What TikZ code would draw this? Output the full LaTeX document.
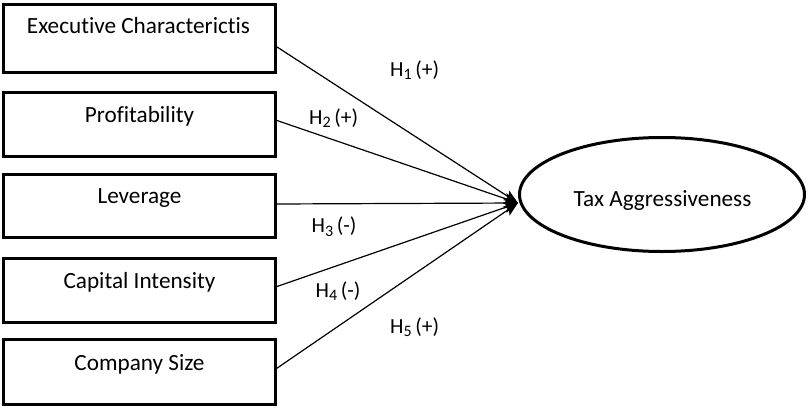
\documentclass[tikz,border=0pt]{standalone}
\usepackage{fontspec}
\setmainfont[Ligatures={NoCommon}]{Carlito}
\usetikzlibrary{shapes.geometric,arrows.meta}
\newcommand{\hyp}[2]{H\raisebox{-0.35ex}{\fontsize{16}{16}\selectfont #1}\,(#2)}
\begin{document}
\begin{tikzpicture}[x=1pt,y=-1pt,
  box/.style={draw=black,line width=3pt,rectangle,minimum width=272pt,inner sep=0pt,outer sep=0pt},
  boxtext/.style={anchor=base,inner sep=0pt,font=\fontsize{23.2}{26}\selectfont},
  hlabel/.style={anchor=base west,inner sep=0pt,font=\fontsize{21.5}{26}\selectfont},
  conn/.style={draw=black,line width=1.2pt,-{Stealth[length=14pt,width=11pt,inset=3pt]}},
  target/.style={draw=black,line width=3pt,ellipse,minimum width=285pt,minimum height=114pt,inner sep=0pt,outer sep=0pt}]
\useasboundingbox (0,0) rectangle (808,407);
% boxes
\node[box,minimum height=68pt] (b1) at (139.5,38.4) {};
\node[box,minimum height=64pt] (b2) at (139.5,124.5) {};
\node[box,minimum height=63pt] (b3) at (139.5,206) {};
\node[box,minimum height=64pt] (b4) at (139.5,290.5) {};
\node[box,minimum height=65.5pt] (b5) at (139.5,372.2) {};
% box texts
\node[boxtext] (t1) at (138.5,33) {Executive Characterictis};
\node[boxtext] (t2) at (139.5,122) {Profitability};
\node[boxtext] (t3) at (139.5,203) {Leverage};
\node[boxtext] (t4) at (139.5,288) {Capital Intensity};
\node[boxtext] (t5) at (139.5,370) {Company Size};
% target
\node[target] (ta) at (662,194.5) {};
\node[boxtext] (tt) at (662.5,206.5) {Tax Aggressiveness};
\coordinate (tip) at (518,203);
% connectors
\draw[conn] ([yshift=-7.6pt]b1.east) -- (tip);
\draw[conn] ([yshift=4.5pt]b2.east) -- (tip);
\draw[conn] ([yshift=2pt]b3.east) -- (tip);
\draw[conn] ([yshift=3.5pt]b4.east) -- (tip);
\draw[conn] ([yshift=3pt]b5.east) -- (tip);
% labels
\node[hlabel] (h1) at (390,76) {\hyp{1}{+}};
\node[hlabel] (h2) at (309,124) {\hyp{2}{+}};
\node[hlabel] (h3) at (311.5,232.7) {\hyp{3}{-}};
\node[hlabel] (h4) at (315.5,297) {\hyp{4}{-}};
\node[hlabel] (h5) at (390,333) {\hyp{5}{+}};
\end{tikzpicture}
\end{document}
